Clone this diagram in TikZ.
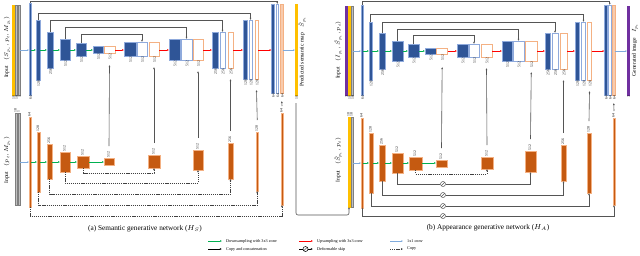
\RequirePackage{fix-cm}
\documentclass[tikz,border=0pt]{standalone}
\usepackage{fontspec}
\setmainfont{Liberation Serif}
\usetikzlibrary{arrows.meta,calc}
\definecolor{cBlue}{HTML}{2F5597}
\definecolor{cBlueB}{HTML}{8FAADC}
\definecolor{cOrg}{HTML}{C55A11}
\definecolor{cOrgB}{HTML}{F4B183}
\definecolor{cPeach}{HTML}{F8CBAD}
\definecolor{cYel}{HTML}{FFC000}
\definecolor{cGry}{HTML}{BFBFBF}
\definecolor{cGryB}{HTML}{7F7F7F}
\definecolor{cPur}{HTML}{7030A0}
\definecolor{cGrn}{HTML}{00B050}
\definecolor{cRed}{HTML}{FF0000}
\definecolor{cB11}{HTML}{7FAADC}
\definecolor{cLine}{HTML}{555555}
\newcommand\lblfont{\fontsize{3.8}{4}\selectfont}
\newcommand\blk[7]{\node[#1,minimum width={(#5)-(#3)},minimum height={(#6)-(#4)},label={[lbB]below:#7}] (#2) at ({((#3)+(#5))/2},{((#4)+(#6))/2}) {};}
\newcommand\blkU[7]{\node[#1,minimum width={(#5)-(#3)},minimum height={(#6)-(#4)},label={[lbA]above:#7}] (#2) at ({((#3)+(#5))/2},{((#4)+(#6))/2}) {};}
\tikzset{
  box/.style={inner sep=0pt,outer sep=0pt,line width=0.6pt},
  bf/.style={box,draw=cBlueB,fill=cBlue},
  bo/.style={box,draw=cBlueB,fill=white,line width=0.7pt},
  oo/.style={box,draw=cOrgB,fill=white,line width=0.7pt},
  op/.style={box,draw=cOrgB,fill=cPeach},
  of/.style={box,draw=cOrgB,fill=cOrg},
  yel/.style={box,draw=cYel,fill=cYel,line width=0.3pt},
  gry/.style={box,draw=cGryB,fill=cGry,line width=0.4pt},
  pur/.style={box,draw=cPur,fill=cPur,line width=0.3pt},
  lbB/.style={rotate=90,anchor=east,font=\lblfont,inner sep=0.3pt,text=black!90},
  lbA/.style={rotate=90,anchor=west,font=\lblfont,inner sep=0.3pt,text=black!90},
  txt/.style={font=\fontsize{5.6}{6.5}\selectfont,inner sep=0pt},
  ttl/.style={font=\fontsize{7.3}{8}\selectfont,inner sep=0pt},
  lgt/.style={font=\fontsize{4.2}{5}\selectfont,inner sep=0pt,anchor=west},
  grn/.style={draw=cGrn,line width=0.7pt,-{Latex[length=2pt,width=1.8pt]}},
  rd/.style={draw=cRed,line width=0.7pt,-{Latex[length=2pt,width=1.8pt]}},
  bl/.style={draw=cB11,line width=0.8pt,-{Latex[length=1.6pt,width=1.6pt]}},
  skp/.style={draw=cLine,line width=0.6pt,-{Latex[length=2.2pt,width=2pt]}},
  cpy/.style={draw=black!75,line width=0.7pt,dash pattern=on 1.2pt off 0.9pt,-{Latex[length=2pt,width=1.8pt]}},
  dfs/.style={circle,draw=cLine,fill=white,line width=0.5pt,minimum size=5pt,inner sep=0pt,
     path picture={\draw[cLine,line width=0.45pt] (path picture bounding box.south west) -- (path picture bounding box.north east);}},
}
\begin{document}
\begin{tikzpicture}[x=1pt,y=-1pt,label distance=0.6pt]
\fill[white] (0,0) rectangle (640,255);
\useasboundingbox (0,0) rectangle (640,255);
\coordinate (aMid) at (0,50);
\coordinate (bMid) at (0,162);
\coordinate (cMid) at (0,51);
\coordinate (dMid) at (0,163);
% ================= (a) top =================
\blk{yel}{aI1}{12}{5}{14}{95}{10}
\blk{gry}{aI2}{15}{5}{17}{95}{18}
\blk{gry}{aI3}{18}{5}{20}{95}{1}
\node[txt,rotate=90] (aIn) at (7,47) {Input\quad$(S_{p_s}, p_t, M_{p_s})$};
\blk{bf}{ae1}{29}{3}{31}{95}{64}
\blk{bf}{ae2}{36}{20}{40}{80}{128}
\blk{bf}{ae3}{47}{32}{53}{68}{256}
\blk{bf}{ae4}{60}{39}{70}{60}{512}
\blk{bf}{ae5}{76}{43}{86}{56}{512}
\blk{bf}{ae6}{93}{46}{103}{53}{512}
\blk{oo}{ad0}{104}{46}{115}{53}{512}
\blk{bf}{ad1a}{124}{42}{136}{56}{512}
\blk{bo}{ad1b}{137}{42}{147}{56}{512}
\blk{oo}{ad1c}{149}{42}{159}{56}{512}
\blk{bf}{ad2a}{169}{39}{180}{60}{512}
\blk{bo}{ad2b}{181}{39}{192}{60}{512}
\blk{oo}{ad2c}{193}{39}{203}{60}{512}
\blk{bf}{ad3a}{212}{32}{218}{68}{256}
\blk{bo}{ad3b}{220}{32}{225}{68}{256}
\blk{oo}{ad3c}{228}{32}{233}{68}{256}
\blk{bf}{ad4a}{243}{20}{247}{79}{128}
\blk{bo}{ad4b}{249}{20}{252}{79}{128}
\blk{oo}{ad4c}{255}{20}{258}{79}{128}
\blk{bf}{ad5a}{271.5}{4}{274}{93}{64}
\blk{bo}{ad5b}{276}{4}{278.5}{93}{64}
\blk{op}{ad5c}{280.5}{4}{283}{93}{64}
\blk{yel}{aO}{295}{4}{297}{95}{10}
\node[txt,rotate=90] (aOt) at (302,52) {Predicted semantic map\quad$\hat{S}_{p_t}$};
\draw[bl] (aI3.east |- aMid) -- (ae1.west |- aMid);
\foreach \p/\q in {ae1/ae2,ae2/ae3,ae3/ae4,ae4/ae5,ae5/ae6}
  \draw[grn] (\p.east |- aMid) -- (\q.west |- aMid);
\foreach \p/\q in {ad0/ad1a,ad1c/ad2a,ad2c/ad3a,ad3c/ad4a,ad4c/ad5a}
  \draw[rd] (\p.east |- aMid) -- (\q.west |- aMid);
\draw[bl] (ad5c.east |- aMid) -- (aO.west |- aMid);
\draw[skp] (ae1.north) -- ++(0,-2) -| (ad5b.north);
\draw[skp] (ae2.north) -- ++(0,-7) -| (ad4b.north);
\draw[skp] (ae3.north) -- ++(0,-11.5) -| (ad3b.north);
\draw[skp] (ae4.north) -- ++(0,-11.5) -| (ad2b.north);
\draw[skp] (ae5.north) -- ++(0,-9) -| (ad1b.north);
% ================= (a) bottom =================
\blkU{gry}{bI2}{15}{113}{17}{205}{18}
\blkU{gry}{bI3}{18}{113}{20}{205}{1}
\node[txt,rotate=90] (bIn) at (7,160) {Input\quad$(p_t, M_{p_t})$};
\blkU{of}{be1}{29}{117}{31}{207}{64}
\blkU{of}{be2}{37}{132}{40}{192}{128}
\blkU{of}{be3}{47}{144}{52}{179}{256}
\blkU{of}{be4}{60}{152}{70}{172}{512}
\blkU{of}{be5}{77}{156}{89}{168}{512}
\blkU{of}{be6}{104}{158}{114}{165}{512}
\blkU{of}{bd1}{148}{155}{160}{168}{512}
\blkU{of}{bd2}{193}{150}{203}{170}{512}
\blkU{of}{bd3}{228}{143}{233}{179}{256}
\blkU{of}{bd4}{256}{132}{258.5}{191}{128}
\blkU{of}{bd5}{281}{113}{283}{205}{64}
\draw[bl] (bI3.east |- bMid) -- (be1.west |- bMid);
\foreach \p/\q in {be1/be2,be2/be3,be3/be4,be4/be5,be5/be6}
  \draw[grn] (\p.east |- bMid) -- (\q.west |- bMid);
\draw[cpy] (be5.south) -- ++(0,5) -| (bd1.south);
\draw[cpy] (be4.south) -- ++(0,11) -| (bd2.south);
\draw[cpy] (be3.south) -- ++(0,15) -| (bd3.south);
\draw[cpy] (be2.south) -- ++(0,13) -| (bd4.south);
\draw[cpy] (be1.south) -- ++(0,9) -| (bd5.south);
\draw[skp] ($(be6.north)+(0,-12)$) -- ($(ad0.south)+(0,12)$);
\draw[skp] ($(bd1.north)+(0,-12)$) -- ($(ad1c.south)+(0,11)$);
\draw[skp] ($(bd2.north)+(0,-12)$) -- ($(ad2c.south)+(0,11)$);
\draw[skp] ($(bd3.north)+(0,-12)$) -- ($(ad3c.south)+(0,11)$);
\draw[skp] ($(bd4.north)+(0,-12)$) -- ($(ad4c.south)+(0,11)$);
\draw[skp] ($(bd5.north)+(0,-7)$) -- ($(ad5c.south)+(0,8)$);
\node[ttl] (tA) at (145,229) {(a) Semantic generative network ($H_S$)};
% ================= (b) top =================
\blk{pur}{cI1}{345}{6}{347}{95}{3}
\blk{yel}{cI2}{348}{6}{350}{95}{10}
\blk{gry}{cI3}{351}{6}{353}{95}{18}
\node[txt,rotate=90] (cIn) at (338,50) {Input\quad$(I_{p_s}, \hat{S}_{p_t}, p_t)$};
\blk{bf}{ce1}{361}{5}{363}{95}{64}
\blk{bf}{ce2}{369}{22}{372}{80}{128}
\blk{bf}{ce3}{379}{33}{385}{69}{256}
\blk{bf}{ce4}{392}{41}{403}{61}{512}
\blk{bf}{ce5}{408}{44}{419}{57}{512}
\blk{bf}{ce6}{425}{48}{436}{54}{512}
\blk{oo}{cd0}{436.8}{48}{447.5}{54}{512}
\blk{bf}{cd1a}{457}{44}{468}{57}{512}
\blk{bo}{cd1b}{469}{44}{479}{57}{512}
\blk{oo}{cd1c}{481}{44}{492}{57}{512}
\blk{bf}{cd2a}{502}{41}{512}{61}{512}
\blk{bo}{cd2b}{513}{41}{524}{61}{512}
\blk{oo}{cd2c}{525.5}{41}{537}{61}{512}
\blk{bf}{cd3a}{545}{33}{550}{69}{256}
\blk{bo}{cd3b}{552}{33}{558}{69}{256}
\blk{oo}{cd3c}{560}{33}{567}{69}{256}
\blk{bf}{cd4a}{575}{22}{579}{80}{128}
\blk{bo}{cd4b}{581.5}{22}{585.5}{80}{128}
\blk{oo}{cd4c}{587.5}{22}{591.5}{80}{128}
\blk{bf}{cd5a}{604.5}{5}{607}{95}{64}
\blk{bo}{cd5b}{608.5}{5}{611}{95}{64}
\blk{op}{cd5c}{612.5}{5}{615}{95}{64}
\blk{pur}{cO}{627}{6}{629}{95}{3}
\node[txt,rotate=90] (cOt) at (635,50) {Generated image\quad$I_{p_t}$};
\draw[bl] (cI3.east |- cMid) -- (ce1.west |- cMid);
\foreach \p/\q in {ce1/ce2,ce2/ce3,ce3/ce4,ce4/ce5,ce5/ce6}
  \draw[grn] (\p.east |- cMid) -- (\q.west |- cMid);
\foreach \p/\q in {cd0/cd1a,cd1c/cd2a,cd2c/cd3a,cd3c/cd4a,cd4c/cd5a}
  \draw[rd] (\p.east |- cMid) -- (\q.west |- cMid);
\draw[bl] (cd5c.east |- cMid) -- (cO.west |- cMid);
\draw[skp] (ce1.north) -- ++(0,-4) -| (cd5b.north);
\draw[skp] (ce2.north) -- ++(0,-8) -| (cd4b.north);
\draw[skp] (ce3.north) -- ++(0,-11) -| (cd3b.north);
\draw[skp] (ce4.north) -- ++(0,-12) -| (cd2b.north);
\draw[skp] (ce5.north) -- ++(0,-9) -| (cd1b.north);
% ================= (b) bottom =================
\blkU{yel}{dI2}{348}{117}{350}{207}{10}
\blkU{gry}{dI3}{351}{117}{353}{207}{18}
\node[txt,rotate=90] (dIn) at (338,160) {Input\quad$(\hat{S}_{p_t}, p_t)$};
\blkU{of}{de1}{361}{118}{363}{208}{64}
\blkU{of}{de2}{369}{133}{373}{193}{128}
\blkU{of}{de3}{379}{145}{385}{181}{256}
\blkU{of}{de4}{392}{153}{403}{173}{512}
\blkU{of}{de5}{409}{157}{422}{170}{512}
\blkU{of}{de6}{436}{160}{447}{167}{512}
\blkU{of}{dd1}{481}{157}{493}{169}{512}
\blkU{of}{dd2}{525}{151}{536}{172}{512}
\blkU{of}{dd3}{561}{145}{566}{181}{256}
\blkU{of}{dd4}{587}{133}{591}{193}{128}
\blkU{of}{dd5}{613}{118}{615}{205}{64}
\draw[bl] (dI3.east |- dMid) -- (de1.west |- dMid);
\foreach \p/\q in {de1/de2,de2/de3,de3/de4,de4/de5,de5/de6}
  \draw[grn] (\p.east |- dMid) -- (\q.west |- dMid);
\node[dfs] (dfA) at (443,184) {};
\node[dfs] (dfB) at (443,195) {};
\node[dfs] (dfC) at (443,206) {};
\node[dfs] (dfD) at (443,216) {};
\draw[skp] (de4.south) |- (dfA) -| (dd2.south);
\draw[skp] (de3.south) |- (dfB) -| (dd3.south);
\draw[skp] (de2.south) |- (dfC) -| (dd4.south);
\draw[skp] (de1.south) |- (dfD) -| (dd5.south);
\draw[cpy] (de5.south) -- ++(0,4) -| (dd1.south);
\draw[skp] ($(de6.north)+(0,-12)$) -- ($(cd0.south)+(0,13)$);
\draw[skp] ($(dd1.north)+(0,-12)$) -- ($(cd1c.south)+(0,11)$);
\draw[skp] ($(dd2.north)+(0,-12)$) -- ($(cd2c.south)+(0,11)$);
\draw[skp] ($(dd3.north)+(0,-12)$) -- ($(cd3c.south)+(0,11)$);
\draw[skp] ($(dd4.north)+(0,-12)$) -- ($(cd4c.south)+(0,11)$);
\draw[skp] ($(dd5.north)+(0,-7)$) -- ($(cd5c.south)+(0,8)$);
\node[ttl] (tB) at (488,228) {(b) Appearance generative network ($H_A$)};
% feed of predicted map
\draw[skp,rounded corners=2pt] ($(aO.south)+(0,8)$) |- ($(dI2.south)+(0,8)$) -- (dI2.south);
% ================= legend =================
\coordinate (L1s) at (208,241); \coordinate (L1e) at (222,241);
\coordinate (L2s) at (208,249); \coordinate (L2e) at (222,249);
\coordinate (L3s) at (299,241); \coordinate (L3e) at (313,241);
\coordinate (L4s) at (299,249); \coordinate (L4e) at (313,249);
\coordinate (L5s) at (390,241); \coordinate (L5e) at (403,241);
\coordinate (L6s) at (390,249); \coordinate (L6e) at (403,249);
\draw[grn] (L1s) -- (L1e);
\node[lgt] (L1t) at (226,241) {Downsampling with 3x3 conv};
\draw[skp,draw=black] (L2s) -- (L2e);
\node[lgt] (L2t) at (226,249) {Copy and concatenation};
\draw[rd] (L3s) -- (L3e);
\node[lgt] (L3t) at (317,241) {Upsampling with 3x3 conv};
\node[dfs,draw=black] (L4c) at (305.5,249) {};
\draw[skp,draw=black] (L4s) -- (L4c) -- (L4e);
\node[lgt] (L4t) at (317,249) {Deformable skip};
\draw[bl] (L5s) -- (L5e);
\node[lgt] (L5t) at (407,241) {1x1 conv};
\draw[cpy] (L6s) -- (L6e);
\node[lgt] (L6t) at (407,249) {Copy};
\end{tikzpicture}
\end{document}
